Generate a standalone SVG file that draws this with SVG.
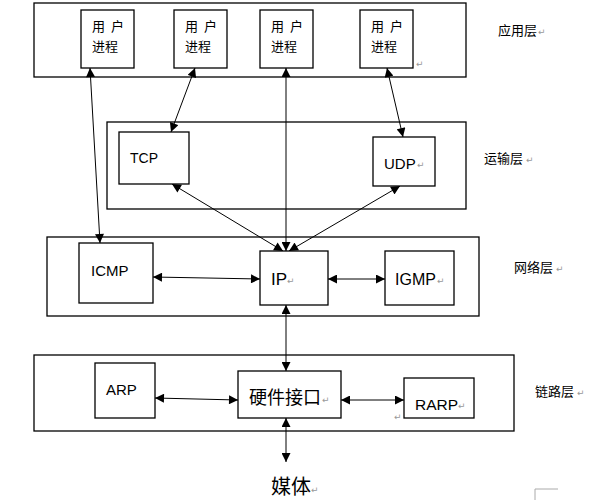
<svg xmlns="http://www.w3.org/2000/svg" width="591" height="500" viewBox="0 0 591 500">
<style>
.layer{fill:none;stroke:#000;stroke-width:1.3}
.box{fill:#fff;stroke:#000;stroke-width:1.3}
.cn{font-family:"Noto Sans CJK SC","Noto Sans",sans-serif;fill:#000}
.en{font-family:"Liberation Sans",Arial,sans-serif;fill:#000}
.pm{font-family:"DejaVu Sans",sans-serif;font-size:9px;fill:#999}
.c line{stroke:#000;stroke-width:1;marker-start:url(#a);marker-end:url(#a)}
</style>
<defs>
<marker id="a" viewBox="0 0 10 10" refX="10" refY="5" markerWidth="10" markerHeight="9" markerUnits="userSpaceOnUse" orient="auto-start-reverse">
<path d="M0,0 L10,5 L0,10 z" fill="#000"/>
</marker>
</defs>
<rect width="591" height="500" fill="#fff"/>
<g id="app-layer"><rect class="layer" x="34" y="3" width="432" height="74"/><text class="cn" x="498" y="35" font-size="13">应用层</text><text class="pm" x="538" y="35">↵</text></g>
<g id="transport-layer"><rect class="layer" x="107" y="122" width="359" height="87"/><text class="cn" x="484" y="163" font-size="13">运输层</text><text class="pm" x="526" y="163">↵</text></g>
<g id="network-layer"><rect class="layer" x="47" y="237" width="432" height="79"/><text class="cn" x="514" y="272" font-size="13">网络层</text><text class="pm" x="556" y="272">↵</text></g>
<g id="link-layer"><rect class="layer" x="34" y="355" width="480" height="76"/><text class="cn" x="535" y="396" font-size="13">链路层</text><text class="pm" x="577" y="396">↵</text></g>
<g class="c" id="connectors">
<line x1="90" y1="68" x2="100" y2="243"/>
<line x1="195" y1="68" x2="171" y2="132"/>
<line x1="286" y1="68" x2="286" y2="251"/>
<line x1="387" y1="68" x2="403" y2="137"/>
<line x1="172" y1="184" x2="283" y2="251"/>
<line x1="400" y1="186" x2="289" y2="251"/>
<line x1="153" y1="277" x2="260" y2="279"/>
<line x1="328" y1="279" x2="385" y2="279"/>
<line x1="286" y1="305" x2="286" y2="371"/>
<line x1="155" y1="398" x2="238" y2="400"/>
<line x1="341" y1="400" x2="404" y2="400"/>
<line x1="286" y1="418" x2="286" y2="462"/>
</g>
<g id="up1"><rect class="box" x="81" y="10" width="53" height="58"/><text class="cn" y="31" font-size="13"><tspan x="92">用</tspan><tspan x="111">户</tspan></text><text class="cn" x="92" y="51" font-size="13">进程</text></g>
<g id="up2"><rect class="box" x="174" y="10" width="53" height="58"/><text class="cn" y="31" font-size="13"><tspan x="185">用</tspan><tspan x="204">户</tspan></text><text class="cn" x="185" y="51" font-size="13">进程</text></g>
<g id="up3"><rect class="box" x="260" y="10" width="53" height="58"/><text class="cn" y="31" font-size="13"><tspan x="271">用</tspan><tspan x="290">户</tspan></text><text class="cn" x="271" y="51" font-size="13">进程</text></g>
<g id="up4"><rect class="box" x="360" y="10" width="53" height="58"/><text class="cn" y="31" font-size="13"><tspan x="371">用</tspan><tspan x="390">户</tspan></text><text class="cn" x="371" y="51" font-size="13">进程</text><text class="pm" x="416" y="67">↵</text></g>
<g id="tcp"><rect class="box" x="119" y="132" width="70" height="52"/><text class="en" x="130" y="163" font-size="14">TCP</text></g>
<g id="udp"><rect class="box" x="373" y="137" width="62" height="49"/><text class="en" x="384" y="169" font-size="15">UDP</text><text class="pm" x="417" y="168">↵</text></g>
<g id="icmp"><rect class="box" x="79" y="243" width="74" height="60"/><text class="en" x="91" y="276" font-size="15">ICMP</text></g>
<g id="ip"><rect class="box" x="260" y="251" width="68" height="54"/><text class="en" x="271" y="285" font-size="17">IP</text><text class="pm" x="287" y="284">↵</text></g>
<g id="igmp"><rect class="box" x="385" y="251" width="69" height="54"/><text class="en" x="395" y="285" font-size="16">IGMP</text><text class="pm" x="437" y="284">↵</text></g>
<g id="arp"><rect class="box" x="95" y="363" width="60" height="55"/><text class="en" x="106" y="395" font-size="15">ARP</text></g>
<g id="hw"><rect class="box" x="238" y="371" width="103" height="47"/><text class="cn" x="249" y="404" font-size="18">硬件接口</text><text class="pm" x="322" y="403">↵</text></g>
<g id="rarp"><rect class="box" x="404" y="378" width="70" height="40"/><text class="en" x="415" y="410" font-size="15.5">RARP</text><text class="pm" x="458" y="409">↵</text><text class="pm" x="394" y="420">↵</text></g>
<g id="media"><text class="cn" x="271" y="494" font-size="20">媒体</text><text class="pm" x="311" y="493">↵</text></g>
<path d="M535,500 V489 H558" fill="none" stroke="#aaa" stroke-width="1"/>
</svg>
